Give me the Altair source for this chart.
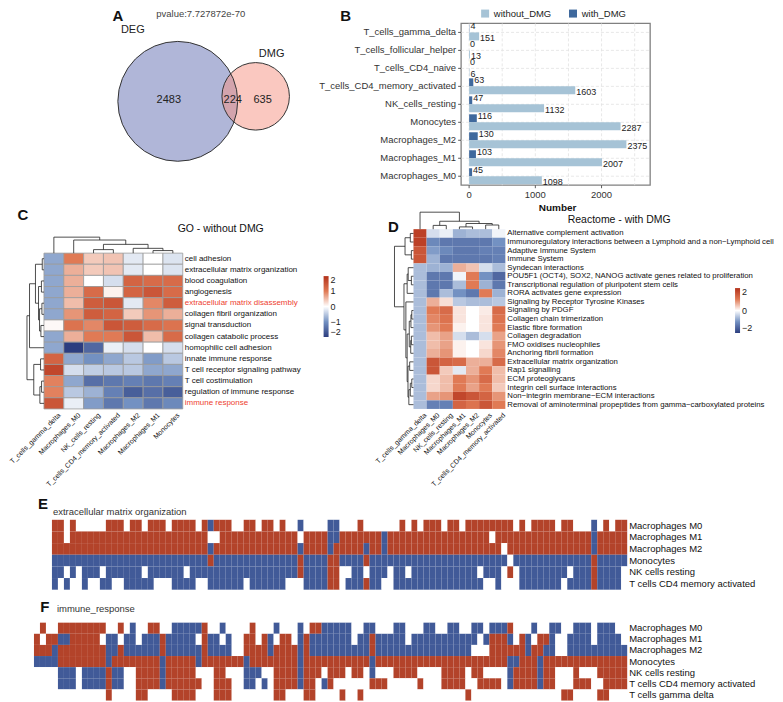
import altair as alt
import pandas as pd

# =============================== DATA ===============================
venn_sets = ["DEG", "DMG"]
venn_only = [2483, 635]
venn_shared = 224
venn_pvalue = "pvalue:7.727872e-70"

bar_cells = ["T_cells_gamma_delta", "T_cells_follicular_helper", "T_cells_CD4_naive",
             "T_cells_CD4_memory_activated", "NK_cells_resting", "Monocytes",
             "Macrophages_M2", "Macrophages_M1", "Macrophages_M0"]
bar_groups = ["without_DMG", "with_DMG"]
bar_with = [4, 0, 0, 63, 47, 116, 130, 103, 45]
bar_without = [151, 13, 6, 1603, 1132, 2287, 2375, 2007, 1098]
bar_ticks = [0, 1000, 2000]
bar_breaks = [0, 500, 1000, 1500, 2000, 2500]
bar_axis_title = "Number"

go_title = "GO - without DMG"
go_cols = ["T_cells_gamma_delta", "Macrophages_M0", "NK_cells_resting",
           "T_cells_CD4_memory_activated", "Macrophages_M2", "Macrophages_M1", "Monocytes"]
go_rows = ["cell adhesion", "extracellular matrix organization", "blood coagulation",
           "angiogenesis", "extracellular matrix disassembly", "collagen fibril organization",
           "signal transduction", "collagen catabolic process", "homophilic cell adhesion",
           "innate immune response", "T cell receptor signaling pathway", "T cell costimulation",
           "regulation of immune response", "immune response"]
go_red = ["extracellular matrix disassembly", "immune response"]
go_values = [
    [-0.8, 1.0, 0.4, 0.45, -0.2, 0.0, -0.25],
    [-0.8, 0.6, 0.4, 0.45, -0.2, 0.0, -0.25],
    [-0.8, 0.6, 0.0, -0.3, 1.3, 1.2, 1.2],
    [-0.8, 0.6, 1.2, 0.1, 1.3, 1.5, 1.2],
    [-0.8, 0.5, 1.4, 1.5, -0.2, 0.9, 1.4],
    [-0.8, 0.8, 1.4, 1.3, 0.4, 0.8, 0.6],
    [0.05, 1.1, 0.9, 1.5, 1.4, 1.2, 1.1],
    [-0.8, 0.6, 1.0, 1.0, 1.5, 0.5, 1.2],
    [-0.8, -2.0, -1.5, -0.15, -0.3, 0.0, -0.3],
    [1.3, -0.8, -1.0, -0.8, -0.5, -0.9, -0.5],
    [1.7, -0.3, -0.45, -0.5, -0.5, -0.8, -0.8],
    [0.95, -0.8, -1.4, -1.3, -1.2, -1.3, -1.2],
    [0.95, -0.5, -0.7, -1.2, -1.6, -1.4, -1.6],
    [1.5, -0.15, -0.9, -1.3, -1.0, -1.3, -1.1],
]
# hierarchical clustering merges: (child a, child b, height); leaves 0..n-1, merges n, n+1, ...
go_row_tree = [(0, 1, 1.0), (2, 3, 1.5), (4, 5, 1.2), (6, 7, 1.8), (16, 17, 2.6), (15, 18, 3.2),
               (14, 19, 5.0), (20, 8, 8.5), (9, 10, 2.0), (11, 12, 1.4), (23, 13, 2.4),
               (22, 24, 6.0), (21, 25, 10.0)]
go_col_tree = [(2, 3, 2.2), (5, 6, 1.6), (4, 8, 3.0), (7, 9, 5.5), (1, 10, 8.2), (0, 11, 10.0)]

re_title = "Reactome - with DMG"
re_cols = ["T_cells_gamma_delta", "Macrophages_M0", "NK_cells_resting", "Macrophages_M1",
           "Macrophages_M2", "Monocytes", "T_cells_CD4_memory_activated"]
re_rows = ["Alternative complement activation",
           "Immunoregulatory interactions between a Lymphoid and a non\u2212Lymphoid cell",
           "Adaptive Immune System", "Immune System", "Syndecan interactions",
           "POU5F1 (OCT4), SOX2, NANOG activate genes related to proliferation",
           "Transcriptional regulation of pluripotent stem cells", "RORA activates gene expression",
           "Signaling by Receptor Tyrosine Kinases", "Signaling by PDGF",
           "Collagen chain trimerization", "Elastic fibre formation", "Collagen degradation",
           "FMO oxidises nucleophiles", "Anchoring fibril formation",
           "Extracellular matrix organization", "Rap1 signalling", "ECM proteoglycans",
           "Integrin cell surface interactions", "Non\u2212integrin membrane\u2212ECM interactions",
           "Removal of aminoterminal propeptides from gamma\u2212carboxylated proteins"]
re_values = [
    [1.8, -0.3, -0.15, -0.7, -0.6, -0.6, -0.1],
    [1.8, -1.1, -1.3, -1.3, -1.3, -1.3, -1.0],
    [1.5, -0.9, -1.1, -1.3, -1.3, -1.2, -1.2],
    [1.5, -0.7, -1.3, -1.3, -1.3, -1.3, -1.2],
    [-0.6, -0.7, -0.7, 0.6, 0.45, -0.3, -0.6],
    [-0.6, -1.3, -1.3, -0.1, 1.0, -1.0, -1.5],
    [-0.6, -1.3, -1.3, -0.6, 1.0, -0.7, -1.3],
    [-0.6, -1.3, -0.6, -1.0, -1.3, 1.0, -0.7],
    [-0.6, 0.6, 0.25, -0.5, -0.6, -0.6, -0.5],
    [-0.6, 1.0, 1.2, 0.2, 0.0, 0.15, 1.2],
    [-0.6, 0.9, 1.1, 0.2, 0.0, 0.2, 1.1],
    [-0.6, 0.8, 1.0, 0.1, 0.0, 0.2, 1.0],
    [-0.6, 0.5, 0.7, -0.3, -0.6, -0.3, 0.7],
    [-0.6, 0.5, 0.7, 0.1, 0.0, 0.2, 0.8],
    [-0.6, 0.6, 0.8, 0.1, 0.0, 0.3, 0.9],
    [-0.6, 1.5, 1.3, 1.2, 0.6, 0.6, 1.2],
    [-0.6, 1.5, 0.4, -0.2, 0.6, 1.0, 0.5],
    [-0.6, 0.3, 0.5, 1.0, 0.8, 1.2, 0.5],
    [-0.6, 0.3, 0.5, 1.0, 0.7, 1.0, 0.4],
    [-0.6, 0.7, 0.8, 1.7, 1.5, 1.3, 0.8],
    [-0.6, -1.2, -1.2, 1.3, 1.1, 1.5, 1.0],
]
re_row_tree = [(0, 1, 1.5), (2, 3, 1.0), (21, 22, 4.0), (5, 6, 1.0), (4, 24, 2.5), (25, 7, 3.0),
               (9, 10, 0.8), (27, 11, 1.2), (12, 13, 1.0), (29, 14, 1.3), (28, 30, 2.0),
               (15, 16, 1.8), (17, 18, 0.8), (33, 19, 1.5), (34, 20, 2.2), (32, 35, 2.6),
               (31, 36, 3.0), (8, 37, 3.6), (26, 38, 4.5), (23, 39, 9.0)]
re_col_tree = [(1, 2, 2.0), (3, 4, 1.2), (5, 6, 2.2), (8, 9, 3.0), (7, 10, 4.2), (0, 11, 9.0)]

# state per cell: r = up (red), b = down (blue), w = none (white)
ecm_title = "extracellular matrix organization"
ecm_rows = ["Macrophages M0", "Macrophages M1", "Macrophages M2", "Monocytes",
            "NK cells resting", "T cells CD4 memory activated"]
ecm_states = [
    "rrwrwwwwwr" "rrwrrwrrrw" "rrrrwrbrrr" "wwrrwrrwrw" "wbwwwwbbww"
    "wrwwwwwwrw" "rwrrrwrrwr" "rrrrrrrwrw" "rrrrwrrwww" "bwrwrr",
    "rrwrrrrrrr" "rrrrrrrrrr" "rrrrrrwwrr" "rrrrrrrrrr" "rwrrrrbbrr"
    "rrrrrbrrrr" "rrrrrrrrrr" "rrrwrrrrrr" "rrrrrrrrrr" "brrrrr",
    "rrrrrrrrrr" "rrrrrrrrrr" "rrrrrrbrrr" "rrrrrrrrrr" "rbrrrrbrrr"
    "rrbrrbrrrr" "rrrrrrrrrr" "rrrrrwrrrr" "rrrrrrrrrr" "brrrrr",
    "bbbbbbbbbb" "bbbbbbbbbb" "bbbbbbrbbb" "bbbbbbbbbb" "brbbbbrrbb"
    "bbrbbbbbbb" "bbbbbbbbbb" "bbbbbbwbbb" "bbbbbbbbbb" "rbbbbb",
    "bbwbwbbbwb" "bbbbbwbbbb" "bbwbbbbbbb" "bbbbbbbbbb" "brbbbbrrww"
    "bbwbbbwbbw" "bbbbbbbbbb" "bwbbbwrwbb" "bbbbbbwbbb" "rbbbbw",
    "bwbwwbwwbb" "wwbbbbbwww" "bbbbwwbbbb" "bbwbbbbbbw" "wwbbbbrrwb"
    "bbrbbwwbbb" "bbbbbbbbbb" "bbwwbwwwbb" "bbbbbwbbbb" "rbbbbw",
]
imm_title = "immune_response"
imm_rows = ["Macrophages M0", "Macrophages M1", "Macrophages M2", "Monocytes",
            "NK cells resting", "T cells CD4 memory activated", "T cells gamma delta"]
imm_states = [
    "wrwwrrrrrr" "rrwwrwbwwr" "rwwbbbbbrw" "wbwwwwrwww" "bwwwbwrrbb"
    "bbbwwbbwww" "bbwwwbbwwb" "bwwbbwbbbr" "wwwbwwbbww" "bbbwbbbww",
    "rwrrbbrrrr" "rwbbwbbwbb" "brbbbbbwrb" "bwbwwrrwrb" "wrrwbrbbbb"
    "bbbwbbrbbb" "bbwbbbbbbb" "bbbbwbrrrb" "wrbwrrbwwb" "bbbwbbbbw",
    "rrrbrrrrrr" "rrbbrbbbbb" "brbbbbbbrb" "bbbwwrrrrb" "rrrrbrbbbb"
    "bbbbbbrbbb" "bbbbbbbbbb" "bbbwwwrrrr" "rrbrrbbwwb" "bbbbbbbbb",
    "bbbbrrrrrr" "rrbrrrrrrr" "rbrrrrrbrr" "rrrrrbrrrr" "rrrrbrrrrr"
    "rrrrrrbrrr" "rrrrrrrrrr" "rrrrrrrrrb" "brrrbrrrrr" "rrrrrrrrr",
    "wwwwbbbwbb" "bbrbbwwrrr" "rbrrrrrwww" "rrwwwbbbww" "rrrrbrrrwr"
    "rrwrrwbwww" "rrrrwwwwrr" "rrwrrwwwwb" "rrrrbrrwww" "rwwwrrrrr",
    "wwwwbbbwbb" "bbrbbwwrrr" "rbrrrrrrww" "rrrwwbbwbw" "rrrrbrrwbr"
    "wwwwwwrrrw" "wwwwrwwwrr" "rrwwrrrrwb" "rrrrbrrwww" "rrrwwrrrr",
    "wwwwwwwwww" "wwrwwwwrrw" "wwwrrrrwww" "rrrwwwwwww" "rrwwwrrwww"
    "wrwwrwwwww" "wwwwwwwwww" "wwrwwwwwww" "wwwwwwwwrr" "wwwwrrwww",
]

# ============================ LAYOUT / STYLE ============================
FONT = "Liberation Sans"
W = 767
H1, H2, H3, H4 = 162, 224, 197, 96
HEAT = ["#2c3d7f", "#7391c2", "#ffffff", "#e07a55", "#b3311a"]
RED, BLUE = "#b3432a", "#415a98"
HL_RED = "#ee4130"
VENN_CX, VENN_CY = [169, 247], [78, 73]
VENN_D = 120
VENN_COLORS = ["#616db1", "#f59181"]
VENN_NUM_X, VENN_NUM_Y = [160, 224, 254], [77, 77, 77]
VENN_SET_X, VENN_SET_Y = [124, 263], [7, 31]
XB_MIN, XB_MAX = -121, 2734
XB_RANGE = [452.7, 642]
TICK_PX = 3
TICK_UNITS = TICK_PX * (XB_MAX - XB_MIN) / (XB_RANGE[1] - XB_RANGE[0])


def note(text, x, y, **kw):
    return alt.Chart(pd.DataFrame({"t": [text]})).mark_text(**kw).encode(
        text="t:N", x=alt.value(x), y=alt.value(y))


def dendro(merges, n, orient, depth):
    pos = [i + 0.5 for i in range(n)]
    hgt = [0.0] * n
    hmax = max(m[2] for m in merges)
    segs = []
    for a, b, h in merges:
        for c in (a, b):
            segs.append((pos[c], hgt[c], pos[c], h))
        segs.append((pos[a], h, pos[b], h))
        pos.append((pos[a] + pos[b]) / 2)
        hgt.append(h)
    out = []
    for p1, h1, p2, h2 in segs:
        d1, d2 = -h1 / hmax * depth, -h2 / hmax * depth
        if orient == "left":
            out.append({"x": d1, "y": p1, "x2": d2, "y2": p2})
        else:
            out.append({"x": p1, "y": d1, "x2": p2, "y2": d2})
    return pd.DataFrame(out)


# ------------------------------ row 1: A + B ------------------------------
SXA = alt.Scale(domain=[0, W], range=[0, W], nice=False, zero=False)
SYA = alt.Scale(domain=[0, H1], range=[0, H1], nice=False, zero=False)
venn_tot = [venn_only[0] + venn_shared, venn_only[1] + venn_shared]
venn_df = pd.DataFrame({"set": venn_sets, "total": venn_tot, "cx": VENN_CX, "cy": VENN_CY})
size_sc = alt.Scale(type="linear", domain=[0, max(venn_tot)], range=[0, VENN_D ** 2])


def venn_enc():
    return dict(x=alt.X("cx:Q", scale=SXA, axis=None), y=alt.Y("cy:Q", scale=SYA, axis=None),
                size=alt.Size("total:Q", scale=size_sc, legend=None))


venn_fill = alt.Chart(venn_df).mark_circle(opacity=1, fillOpacity=0.5, strokeWidth=0).encode(
    color=alt.Color("set:N", scale=alt.Scale(domain=venn_sets, range=VENN_COLORS), legend=None),
    **venn_enc())
venn_line = alt.Chart(venn_df).mark_point(shape="circle", filled=False, color="#333333",
                                          strokeWidth=1, opacity=1).encode(**venn_enc())
num_df = pd.DataFrame({"t": [str(venn_only[0]), str(venn_shared), str(venn_only[1])],
                       "x": VENN_NUM_X, "y": VENN_NUM_Y})
venn_nums = alt.Chart(num_df).mark_text(fontSize=11, color="#222222").encode(
    text="t:N", x=alt.X("x:Q", scale=SXA, axis=None), y=alt.Y("y:Q", scale=SYA, axis=None))
set_df = pd.DataFrame({"t": venn_sets, "x": VENN_SET_X, "y": VENN_SET_Y})
venn_names = alt.Chart(set_df).mark_text(fontSize=11, color="#222222").encode(
    text="t:N", x=alt.X("x:Q", scale=SXA, axis=None), y=alt.Y("y:Q", scale=SYA, axis=None))
panel_a = alt.layer(
    venn_fill, venn_line, venn_nums, venn_names,
    note(venn_pvalue, 192, -14, baseline="top", fontSize=9.5, color="#444444"),
    note("A", 109, -7, baseline="middle", fontSize=15, fontWeight="bold", color="#111111"),
    note("B", 337, -7, baseline="middle", fontSize=15, fontWeight="bold", color="#111111"),
)

bar_df = pd.DataFrame({"cell": bar_cells * 2,
                       "group": ["with_DMG"] * len(bar_cells) + ["without_DMG"] * len(bar_cells),
                       "value": bar_with + bar_without})
cell_df = pd.DataFrame({"cell": bar_cells})
tick_df = pd.DataFrame({"t": bar_ticks})
SXB = alt.Scale(domain=[XB_MIN, XB_MAX], range=XB_RANGE, nice=False, zero=False)
SYB = alt.Scale(domain=bar_cells, paddingInner=0.11, paddingOuter=0.055)
SOB = alt.Scale(domain=["with_DMG", "without_DMG"])
GRID = dict(color="#e2e2e2", strokeDash=[3, 2], strokeWidth=0.8)

frame = alt.Chart(pd.DataFrame({"k": [0]})).mark_rect(filled=False, color="#808080", strokeWidth=1.3).encode(
    x=alt.XDatum(XB_MIN, scale=SXB, axis=None), x2=alt.datum(XB_MAX))
vgrid = alt.Chart(pd.DataFrame({"gx": bar_breaks})).mark_rule(**GRID).encode(
    x=alt.X("gx:Q", scale=SXB, axis=None))
hgrid = alt.Chart(cell_df).mark_rule(**GRID).encode(
    y=alt.Y("cell:N", scale=SYB, axis=None),
    x=alt.XDatum(XB_MIN, scale=SXB, axis=None), x2=alt.datum(XB_MAX))
bars = alt.Chart(bar_df).mark_bar().encode(
    x=alt.X("value:Q", scale=SXB, axis=None),
    x2=alt.datum(0),
    y=alt.Y("cell:N", scale=SYB, axis=None),
    yOffset=alt.YOffset("group:N", scale=SOB),
    color=alt.Color("group:N", scale=alt.Scale(domain=bar_groups, range=["#a6c3d6", "#3f699d"]),
                    legend=alt.Legend(orient="none", legendX=472, legendY=-15, direction="horizontal",
                                      title=None, symbolType="square", symbolSize=64,
                                      symbolStrokeWidth=0, labelFontSize=9.5, labelColor="#222222",
                                      columnPadding=16, labelOffset=4)),
)


def bar_values(group, dy):
    return alt.Chart(bar_df).transform_filter(alt.datum.group == group).mark_text(
        align="left", baseline="middle", dx=1, dy=dy, fontSize=9, color="#222222").encode(
        x=alt.X("value:Q", scale=SXB, axis=None),
        y=alt.Y("cell:N", scale=SYB, axis=None),
        yOffset=alt.YOffset("group:N", scale=SOB),
        text=alt.Text("value:Q", format="d"))


# axis drawn as marks on the bar chart's own scales
ylab = alt.Chart(cell_df).mark_text(align="right", baseline="middle", dx=-(TICK_PX + 2), fontSize=9.5,
                                    color="#333333").encode(
    y=alt.Y("cell:N", scale=SYB, axis=None), x=alt.XDatum(XB_MIN, scale=SXB, axis=None), text="cell:N")
ytick = alt.Chart(cell_df).mark_rule(color="#333333", strokeWidth=0.8).encode(
    y=alt.Y("cell:N", scale=SYB, axis=None), x=alt.XDatum(XB_MIN, scale=SXB, axis=None),
    x2=alt.datum(XB_MIN - TICK_UNITS))
xlab = alt.Chart(tick_df).mark_text(baseline="top", fontSize=9.5, color="#333333").encode(
    x=alt.X("t:Q", scale=SXB, axis=None), y=alt.value(H1 + TICK_PX + 2), text="t:N")
xtick = alt.Chart(tick_df).mark_rule(color="#333333", strokeWidth=0.8).encode(
    x=alt.X("t:Q", scale=SXB, axis=None), y=alt.value(H1), y2=alt.value(H1 + TICK_PX))
xtitle = note(bar_axis_title, (XB_RANGE[0] + XB_RANGE[1]) / 2 + 2, H1 + 23, baseline="middle",
              fontSize=10, fontWeight="bold", color="#111111")

panel_b = alt.layer(frame, vgrid, hgrid, bars, bar_values("with_DMG", -2),
                    bar_values("without_DMG", 2), ylab, ytick, xlab, xtick, xtitle)

row1 = alt.layer(panel_a, panel_b).resolve_scale(
    x="independent", y="independent", color="independent", size="independent"
).properties(width=W, height=H1)


# ------------------------------ row 2: C + D ------------------------------
def heat_panel(key, cols, rows, values, row_tree, col_tree, red_rows, g):
    nc, nr = len(cols), len(rows)
    cw = (g["x1"] - g["x0"]) / nc
    rh = (g["y1"] - g["y0"]) / nr
    sx = alt.Scale(domain=[0, nc], range=[g["x0"], g["x1"]], nice=False, zero=False)
    sy = alt.Scale(domain=[0, nr], range=[g["y0"], g["y1"]], nice=False, zero=False)
    cells = pd.DataFrame([{"c0": j, "c1": j + 1, "r0": i, "r1": i + 1, key: values[i][j]}
                          for i in range(nr) for j in range(nc)])
    rect_kw = {"stroke": g["border"], "strokeWidth": g["bw"]} if "border" in g else {}
    heat = alt.Chart(cells).mark_rect(**rect_kw).encode(
        x=alt.X("c0:Q", scale=sx, axis=None), x2="c1:Q",
        y=alt.Y("r0:Q", scale=sy, axis=None), y2="r1:Q",
        color=alt.Color(f"{key}:Q",
                        scale=alt.Scale(domain=[-2, -1, 0, 1, 2], range=HEAT, interpolate="rgb", clamp=True),
                        legend=alt.Legend(orient="none", legendX=g["lx"], legendY=g["ly"], title=None,
                                          direction="vertical", gradientLength=g["ll"],
                                          gradientThickness=5, values=[2, 1, 0, -1, -2],
                                          labelFontSize=9, labelColor="#222222",
                                          gradientStrokeWidth=0, labelOffset=2)))
    dd = pd.concat([dendro(row_tree, nr, "left", g["ld"] / cw),
                    dendro(col_tree, nc, "top", g["td"] / rh)], ignore_index=True)
    dend = alt.Chart(dd).mark_rule(color="#222222", strokeWidth=0.8).encode(
        x=alt.X("x:Q", scale=sx, axis=None), x2="x2:Q",
        y=alt.Y("y:Q", scale=sy, axis=None), y2="y2:Q")
    rl = pd.DataFrame({"t": rows, "ry": [i + 0.5 for i in range(nr)], "rx": [nc] * nr,
                       "red": [r in red_rows for r in rows]})
    row_lab = alt.Chart(rl).mark_text(align="left", baseline="middle", dx=2, fontSize=g["rfs"]).encode(
        text="t:N", x=alt.X("rx:Q", scale=sx, axis=None), y=alt.Y("ry:Q", scale=sy, axis=None),
        color=alt.condition("datum.red", alt.value(HL_RED), alt.value("#111111")))
    cl = pd.DataFrame({"t": cols, "cx": [j + 0.5 + g["cshift"] for j in range(nc)],
                       "cy": [nr + 2.5 / rh] * nc})
    col_lab = alt.Chart(cl).mark_text(align="right", baseline="top", angle=315, fontSize=g["cfs"],
                                      color="#111111").encode(
        text="t:N", x=alt.X("cx:Q", scale=sx, axis=None), y=alt.Y("cy:Q", scale=sy, axis=None))
    return alt.layer(
        heat, dend, row_lab, col_lab,
        note(g["title"], g["tx"], g["ty"], fontSize=10.5, color="#111111"),
        note(g["letter"], g["lx0"], g["ly0"], fontSize=15, fontWeight="bold", color="#111111"),
    )


geo_c = dict(x0=35, x1=174, y0=68, y1=224, ld=17, td=16, border="#9a9a9a", bw=0.8, rfs=8, cfs=7,
             cshift=0.15, lx=315, ly=91, ll=61, title=go_title, tx=212, ty=44, letter="C",
             lx0=14, ly0=30)
geo_d = dict(x0=405, x1=497, y0=44, y1=224, ld=19, td=17, rfs=7.8, cfs=7,
             cshift=0.2, lx=727, ly=103, ll=45, title=re_title, tx=611, ty=35, letter="D",
             lx0=385, ly0=42)
panel_c = heat_panel("zc", go_cols, go_rows, go_values, go_row_tree, go_col_tree, go_red, geo_c)
panel_d = heat_panel("zd", re_cols, re_rows, re_values, re_row_tree, re_col_tree, [], geo_d)
row2 = alt.layer(panel_c, panel_d).resolve_scale(
    x="independent", y="independent", color="independent"
).properties(width=W, height=H2)


# ------------------------------ rows 3, 4: E, F ------------------------------
def state_panel(rows, states, title, letter, g, height):
    nc, nr = max(len(s) for s in states), len(rows)
    sx = alt.Scale(domain=[0, nc], range=[g["x0"], g["x1"]], nice=False, zero=False)
    sy = alt.Scale(domain=[0, nr], range=[g["y0"], g["y1"]], nice=False, zero=False)
    cells = pd.DataFrame([{"c0": j, "c1": j + 1, "r0": i, "r1": i + 1, "s": ch}
                          for i, s in enumerate(states) for j, ch in enumerate(s)])
    heat = alt.Chart(cells).mark_rect().encode(
        x=alt.X("c0:Q", scale=sx, axis=None), x2="c1:Q",
        y=alt.Y("r0:Q", scale=sy, axis=None), y2="r1:Q",
        color=alt.Color("s:N", scale=alt.Scale(domain=["r", "b", "w"], range=[RED, BLUE, "#ffffff"]),
                        legend=None))
    rl = pd.DataFrame({"t": rows, "ry": [i + 0.5 for i in range(nr)], "rx": [nc] * nr})
    labels = alt.Chart(rl).mark_text(align="left", baseline="middle", dx=2, fontSize=9.5,
                                     color="#111111").encode(
        text="t:N", x=alt.X("rx:Q", scale=sx, axis=None), y=alt.Y("ry:Q", scale=sy, axis=None))
    return alt.layer(
        heat, labels,
        note(title, g["tx"], g["ty"], align="left", fontSize=9.5, color="#333333"),
        note(letter, g["lx0"], g["ly0"], fontSize=15, fontWeight="bold", color="#111111"),
    ).properties(width=W, height=height)


row3 = state_panel(ecm_rows, ecm_states, ecm_title, "E",
                   dict(x0=43, x1=619, y0=111, y1=181, tx=44, ty=103, lx0=34, ly0=95), H3)
row4 = state_panel(imm_rows, imm_states, imm_title, "F",
                   dict(x0=25, x1=619, y0=17, y1=95, tx=48, ty=3, lx0=36, ly0=1.5), H4)

chart = alt.vconcat(row1, row2, row3, row4, spacing=0, bounds="flush", padding=0).configure(
    font=FONT).configure_view(strokeWidth=0)

chart.save("out.html", embed_options={"renderer": "svg", "actions": False})
